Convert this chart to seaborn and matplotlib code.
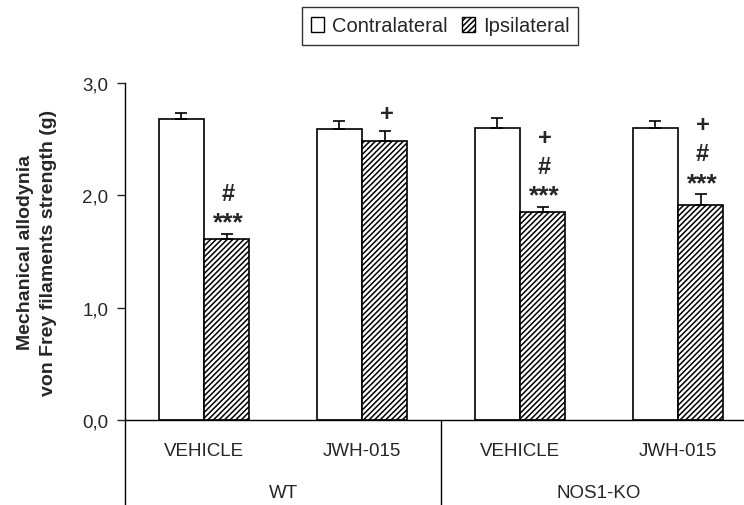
import matplotlib.pyplot as plt
import seaborn as sns
import pandas as pd
from matplotlib.patches import Patch

# values
genotypes = ["WT", "WT", "NOS1-KO", "NOS1-KO"]
treatments = ["VEHICLE", "JWH-015", "VEHICLE", "JWH-015"]
sides = ["Contralateral", "Ipsilateral"]
contra_mean = [2.68, 2.59, 2.60, 2.60]
contra_sem = [0.05, 0.07, 0.09, 0.06]
ipsi_mean = [1.61, 2.48, 1.85, 1.91]
ipsi_sem = [0.05, 0.09, 0.05, 0.10]
ipsi_marks = [["***", "#"], ["+"], ["***", "#", "+"], ["***", "#", "+"]]
y_ticks = [0, 1, 2, 3]
y_tick_labels = ["0,0", "1,0", "2,0", "3,0"]

PX = 0.72  # points per pixel at dpi 100


def build_frame():
    rows = []
    for i in range(len(treatments)):
        key = genotypes[i] + " " + treatments[i]
        rows.append({"group": key, "side": sides[0], "value": contra_mean[i], "sem": contra_sem[i]})
        rows.append({"group": key, "side": sides[1], "value": ipsi_mean[i], "sem": ipsi_sem[i]})
    return pd.DataFrame(rows)


def create_plot(out):
    sns.set_style("white")
    plt.rcParams["font.family"] = ["Liberation Sans", "DejaVu Sans"]
    plt.rcParams["hatch.linewidth"] = 1.1
    plt.rcParams["hatch.color"] = "black"

    fig = plt.figure(figsize=(7.44, 5.06), dpi=100)
    ax = fig.add_axes([125 / 744, 85 / 506, 632 / 744, 337 / 506])

    data = build_frame()
    order = [g + " " + t for g, t in zip(genotypes, treatments)]

    # Main drawing method
    sns.barplot(data=data, x="group", y="value", hue="side", order=order, hue_order=sides,
                palette=["white", "white"], edgecolor="black", linewidth=1.2, width=0.57,
                saturation=1, errorbar=None, legend=False, ax=ax)

    # hatch the ipsilateral bars, add upper error bars
    bars = list(ax.containers)
    for j, cont in enumerate(bars):
        sems = contra_sem if j == 0 else ipsi_sem
        xs, tops = [], []
        for p in cont.patches:
            if j == 1:
                p.set_hatch("//////")
            xs.append(p.get_x() + p.get_width() / 2)
            tops.append(p.get_height())
        ax.errorbar(xs, tops, yerr=[[0] * len(sems), sems], fmt="none", ecolor="black",
                    elinewidth=1.2, capsize=4.5, capthick=1.2, zorder=3)

    # significance marks above ipsilateral bars (ink centre offsets in px)
    for p, sem, marks in zip(bars[1].patches, ipsi_sem, ipsi_marks):
        x = p.get_x() + p.get_width() / 2
        y = p.get_height() + sem
        centre = 13 if marks[0] == "***" else 20
        for m in marks:
            size = 19 if m == "***" else 17
            lift = 0.35 * size / PX
            ax.annotate(m, (x, y), xytext=(1.5, (centre - lift) * PX), textcoords="offset points",
                        ha="center", va="baseline", fontsize=size, fontweight="bold")
            centre += 29

    # axes
    ax.set_xlim(-0.5, 3.5)
    ax.set_ylim(0, 3)
    ax.set_yticks(y_ticks)
    ax.set_yticklabels(y_tick_labels)
    ax.set_xticks(range(len(treatments)))
    ax.set_xticklabels(treatments)
    ax.tick_params(axis="x", length=0, pad=15.5, labelsize=13.5)
    ax.tick_params(axis="y", length=6, width=1, pad=6, labelsize=13.5, left=True)
    ax.set_xlabel("")
    ax.set_ylabel("Mechanical allodynia\nvon Frey filaments strength (g)",
                  fontsize=14, fontweight="bold", linespacing=1.45)
    ax.yaxis.set_label_coords(-0.108, 0.5)
    for s in ["top", "right"]:
        ax.spines[s].set_visible(False)
    for s in ["left", "bottom"]:
        ax.spines[s].set_color("black")
        ax.spines[s].set_linewidth(1)

    # genotype separators and labels
    xt = ax.get_xaxis_transform()
    for x in [-0.5, 1.5, 3.5]:
        ax.plot([x, x], [0, -0.27], transform=xt, color="black", lw=1, clip_on=False)
    for i in range(0, len(genotypes), 2):
        ax.text(i + 0.5, -0.214, genotypes[i], transform=xt, ha="center", va="center",
                fontsize=13.5)

    # legend
    handles = [Patch(facecolor="white", edgecolor="black", linewidth=1),
               Patch(facecolor="white", edgecolor="black", linewidth=1, hatch="//////")]
    leg = fig.legend(handles, sides, loc="center", bbox_to_anchor=(440 / 744, 1 - 27 / 506),
                     ncol=2, frameon=True, fancybox=False, fontsize=14.5, handlelength=0.65,
                     handleheight=0.7, handletextpad=0.4, columnspacing=0.7,
                     borderpad=0.45, borderaxespad=0)
    leg.get_frame().set_edgecolor("black")
    leg.get_frame().set_linewidth(1)

    fig.savefig(out, dpi=100)


create_plot("out.png")
